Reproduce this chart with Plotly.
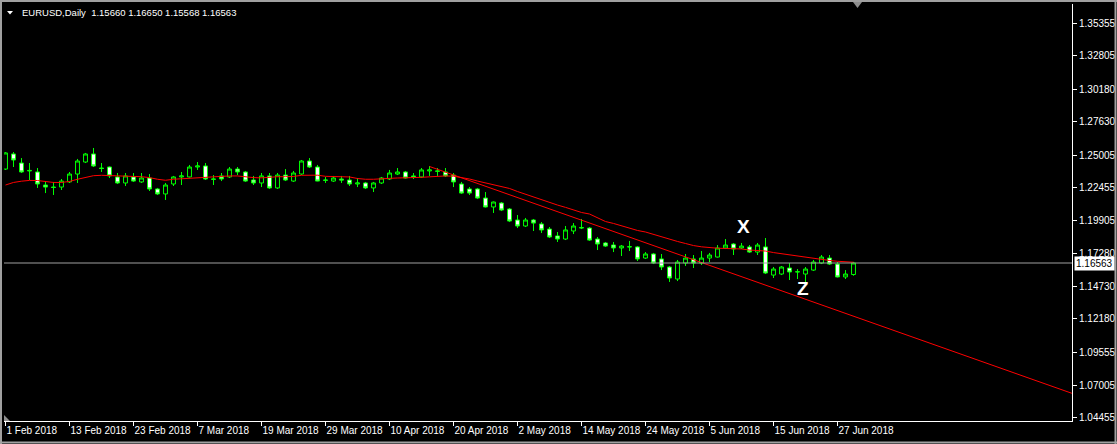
import plotly.graph_objects as go

# ---------------- data ----------------
bar_index = list(range(107))

opens = [
    1.2392, 1.2510, 1.2439, 1.2377, 1.2369, 1.2267, 1.2251, 1.2251, 1.2291, 1.2353,
    1.2447, 1.2510, 1.2400, 1.2408, 1.2330, 1.2283, 1.2330, 1.2291, 1.2322, 1.2236,
    1.2197, 1.2275, 1.2330, 1.2330, 1.2408, 1.2416, 1.2314, 1.2338, 1.2330, 1.2392,
    1.2369, 1.2306, 1.2283, 1.2338, 1.2244, 1.2345, 1.2298, 1.2353, 1.2455, 1.2408,
    1.2306, 1.2298, 1.2314, 1.2306, 1.2275, 1.2283, 1.2244, 1.2283, 1.2314, 1.2353,
    1.2369, 1.2338, 1.2330, 1.2377, 1.2377, 1.2369, 1.2345, 1.2275, 1.2236, 1.2236,
    1.2165, 1.2095, 1.2126, 1.2079, 1.1993, 1.1946, 1.1993, 1.1962, 1.1922, 1.1868,
    1.1844, 1.1907, 1.1930, 1.1930, 1.1844, 1.1813, 1.1797, 1.1774, 1.1782, 1.1782,
    1.1695, 1.1727, 1.1688, 1.1625, 1.1531, 1.1656, 1.1688, 1.1656, 1.1695, 1.1703,
    1.1774, 1.1805, 1.1774, 1.1782, 1.1742, 1.1782, 1.1562, 1.1570, 1.1617, 1.1586,
    1.1570, 1.1601, 1.1656, 1.1695, 1.1648, 1.1547, 1.15660]

highs = [
    1.2525, 1.2525, 1.2478, 1.2439, 1.2400, 1.2298, 1.2291, 1.2314, 1.2369, 1.2471,
    1.2518, 1.2557, 1.2439, 1.2412, 1.2361, 1.2361, 1.2361, 1.2361, 1.2353, 1.2244,
    1.2283, 1.2338, 1.2369, 1.2424, 1.2447, 1.2439, 1.2345, 1.2361, 1.2408, 1.2408,
    1.2377, 1.2338, 1.2361, 1.2361, 1.2361, 1.2392, 1.2377, 1.2463, 1.2478, 1.2424,
    1.2330, 1.2338, 1.2338, 1.2338, 1.2322, 1.2291, 1.2291, 1.2330, 1.2385, 1.2400,
    1.2377, 1.2361, 1.2400, 1.2416, 1.2400, 1.2400, 1.2361, 1.2291, 1.2251, 1.2244,
    1.2212, 1.2138, 1.2134, 1.2087, 1.2032, 1.2009, 1.2001, 1.1977, 1.1938, 1.1899,
    1.1946, 1.1969, 1.2001, 1.1938, 1.1860, 1.1821, 1.1821, 1.1797, 1.1829, 1.1789,
    1.1742, 1.1735, 1.1727, 1.1633, 1.1680, 1.1727, 1.1719, 1.1750, 1.1735, 1.1797,
    1.1844, 1.1813, 1.1813, 1.1797, 1.1813, 1.1852, 1.1625, 1.1633, 1.1656, 1.1609,
    1.1625, 1.1680, 1.1719, 1.1719, 1.1664, 1.1601, 1.16650]

lows = [
    1.2385, 1.2408, 1.2361, 1.2306, 1.2244, 1.2204, 1.2189, 1.2228, 1.2283, 1.2283,
    1.2439, 1.2408, 1.2369, 1.2322, 1.2275, 1.2259, 1.2291, 1.2283, 1.2220, 1.2189,
    1.2150, 1.2259, 1.2267, 1.2326, 1.2385, 1.2306, 1.2267, 1.2298, 1.2322, 1.2345,
    1.2291, 1.2267, 1.2251, 1.2236, 1.2236, 1.2298, 1.2291, 1.2345, 1.2400, 1.2296,
    1.2283, 1.2291, 1.2283, 1.2259, 1.2251, 1.2236, 1.2212, 1.2275, 1.2306, 1.2345,
    1.2318, 1.2314, 1.2322, 1.2338, 1.2338, 1.2330, 1.2251, 1.2197, 1.2189, 1.2157,
    1.2091, 1.2048, 1.2063, 1.1977, 1.1930, 1.1938, 1.1907, 1.1891, 1.1852, 1.1821,
    1.1836, 1.1883, 1.1922, 1.1829, 1.1758, 1.1782, 1.1742, 1.1711, 1.1750, 1.1672,
    1.1688, 1.1648, 1.1601, 1.1508, 1.1515, 1.1633, 1.1617, 1.1641, 1.1664, 1.1699,
    1.1766, 1.1719, 1.1766, 1.1735, 1.1719, 1.1570, 1.1539, 1.1562, 1.1523, 1.1531,
    1.1508, 1.1594, 1.1648, 1.1641, 1.1543, 1.1531, 1.15568]

closes = [
    1.2518, 1.2463, 1.2369, 1.2381, 1.2275, 1.2251, 1.2248, 1.2298, 1.2353, 1.2455,
    1.2510, 1.2416, 1.2396, 1.2338, 1.2283, 1.2338, 1.2298, 1.2322, 1.2236, 1.2197,
    1.2267, 1.2330, 1.2338, 1.2408, 1.2416, 1.2314, 1.2312, 1.2314, 1.2392, 1.2369,
    1.2298, 1.2283, 1.2338, 1.2244, 1.2345, 1.2306, 1.2361, 1.2455, 1.2408, 1.2298,
    1.2304, 1.2322, 1.2306, 1.2275, 1.2283, 1.2244, 1.2283, 1.2322, 1.2361, 1.2369,
    1.2322, 1.2330, 1.2385, 1.2385, 1.2375, 1.2338, 1.2291, 1.2204, 1.2204, 1.2165,
    1.2095, 1.2134, 1.2071, 1.1985, 1.1946, 1.1993, 1.1969, 1.1915, 1.1860, 1.1844,
    1.1915, 1.1946, 1.1934, 1.1836, 1.1805, 1.1789, 1.1774, 1.1789, 1.1784, 1.1688,
    1.1727, 1.1656, 1.1625, 1.1539, 1.1664, 1.1695, 1.1656, 1.1695, 1.1719, 1.1774,
    1.1797, 1.1766, 1.1789, 1.1742, 1.1797, 1.1578, 1.1609, 1.1625, 1.1586, 1.1588,
    1.1609, 1.1664, 1.1703, 1.1648, 1.1547, 1.1570, 1.16563]

moving_avg = [
    1.2267, 1.2287, 1.2297, 1.2303, 1.2302, 1.2294, 1.2287, 1.2287, 1.2295, 1.2312,
    1.2328, 1.2340, 1.2343, 1.2342, 1.2339, 1.2336, 1.2334, 1.2332, 1.2325, 1.2312,
    1.2304, 1.2312, 1.2317, 1.2321, 1.2325, 1.2327, 1.2331, 1.2336, 1.2338, 1.2338,
    1.2331, 1.2325, 1.2323, 1.2330, 1.2332, 1.2332, 1.2334, 1.2343, 1.2345, 1.2344,
    1.2335, 1.2334, 1.2334, 1.2330, 1.2318, 1.2312, 1.2312, 1.2313, 1.2319, 1.2322,
    1.2322, 1.2323, 1.2327, 1.2331, 1.2335, 1.2338, 1.2336, 1.2327, 1.2314, 1.2298,
    1.2284, 1.2272, 1.2259, 1.2240, 1.2216, 1.2194, 1.2171, 1.2150, 1.2130, 1.2110,
    1.2092, 1.2071, 1.2052, 1.2040, 1.2013, 1.1981, 1.1966, 1.1946, 1.1930, 1.1911,
    1.1899, 1.1879, 1.1860, 1.1840, 1.1825, 1.1809, 1.1793, 1.1783, 1.1776, 1.1772,
    1.1770, 1.1770, 1.1766, 1.1758, 1.1754, 1.1750, 1.1738, 1.1729, 1.1719, 1.1709,
    1.1700, 1.1692, 1.1684, 1.1676, 1.1670, 1.1664, 1.1662]

trend_x = [53, 133.3]
trend_y = [1.2412, 1.0636]

bid_price = 1.16563

date_tick_index = [0, 8, 16, 24, 32, 40, 48, 56, 64, 72, 80, 88, 96, 104]
date_tick_labels = ["1 Feb 2018", "13 Feb 2018", "23 Feb 2018", "7 Mar 2018",
                    "19 Mar 2018", "29 Mar 2018", "10 Apr 2018", "20 Apr 2018",
                    "2 May 2018", "14 May 2018", "24 May 2018", "5 Jun 2018",
                    "15 Jun 2018", "27 Jun 2018"]

price_ticks = [1.35355, 1.32805, 1.30180, 1.27630, 1.25005, 1.22455, 1.19905,
               1.17280, 1.14730, 1.12180, 1.09555, 1.07005, 1.04455]
price_tick_labels = ["%.5f" % v for v in price_ticks]

header_text = "EURUSD,Daily\u00a0 1.15660 1.16650 1.15568 1.16563"

label_x = {"text": "X", "x": 92.3, "y": 1.1946}
label_z = {"text": "Z", "x": 99.7, "y": 1.1453}

# ---------------- figure ----------------
FONT = "Liberation Sans, Arial, sans-serif"
GREEN = "#00ff00"

fig = go.Figure()

fig.add_trace(go.Candlestick(
    x=bar_index, open=opens, high=highs, low=lows, close=closes,
    increasing=dict(line=dict(color=GREEN, width=1), fillcolor="black"),
    decreasing=dict(line=dict(color=GREEN, width=1), fillcolor="white"),
    whiskerwidth=0, hoverinfo="skip", showlegend=False))

fig.add_trace(go.Scatter(
    x=bar_index, y=moving_avg, mode="lines",
    line=dict(color="#ff0000", width=1), hoverinfo="skip", showlegend=False))

fig.add_trace(go.Scatter(
    x=trend_x, y=trend_y, mode="lines",
    line=dict(color="#ff0000", width=1), hoverinfo="skip", showlegend=False))

W, H = 1117, 444
L, R, T, B = 4, 45, 4, 23
PW, PH = W - L - R, H - T - B


def px(x):
    return (x - L) / PW


def py(y):
    return (H - B - y) / PH


shapes = [
    # bid line
    dict(type="line", xref="paper", yref="y", x0=0, x1=1, y0=bid_price, y1=bid_price,
         line=dict(color="#a0a0a0", width=1)),
    # window frame (grey)
    dict(type="line", xref="paper", yref="paper", x0=px(0), x1=px(W), y0=py(1), y1=py(1),
         line=dict(color="#a0a0a0", width=2)),
    dict(type="line", xref="paper", yref="paper", x0=px(1), x1=px(1), y0=py(0), y1=py(H),
         line=dict(color="#a0a0a0", width=2)),
    dict(type="line", xref="paper", yref="paper", x0=px(0), x1=px(W), y0=py(H - 1.5), y1=py(H - 1.5),
         line=dict(color="#a0a0a0", width=2)),
    dict(type="line", xref="paper", yref="paper", x0=px(W - 1.5), x1=px(W - 1.5), y0=py(0), y1=py(H),
         line=dict(color="#a0a0a0", width=2)),
    # chart-shift marker at top
    dict(type="path", xref="paper", yref="paper",
         path="M %f,%f L %f,%f L %f,%f Z" % (px(853), py(2), px(862), py(2), px(857.5), py(8)),
         fillcolor="#8c8c8c", line=dict(width=0)),
    # bottom-left scale marker
    dict(type="path", xref="paper", yref="paper",
         path="M %f,%f L %f,%f L %f,%f Z" % (px(4), py(415), px(4), py(421), px(10), py(421)),
         fillcolor="#8c8c8c", line=dict(width=0)),
    # header triangle
    dict(type="path", xref="paper", yref="paper",
         path="M %f,%f L %f,%f L %f,%f Z" % (px(7), py(11), px(13), py(11), px(10), py(14.5)),
         fillcolor="white", line=dict(width=0)),
]

annotations = [
    dict(xref="paper", yref="paper", x=px(20), y=py(12.7), xanchor="left", yanchor="middle",
         text=header_text, showarrow=False, font=dict(family=FONT, size=9.5, color="white")),
    dict(xref="paper", yref="y", x=px(1074), y=bid_price, xanchor="left", yanchor="middle",
         text="%.5f" % bid_price, showarrow=False, bgcolor="white", borderpad=1,
         font=dict(family=FONT, size=10, color="black")),
]
for lab in (label_x, label_z):
    annotations.append(dict(xref="x", yref="y", x=lab["x"], y=lab["y"], text="<b>%s</b>" % lab["text"],
                            showarrow=False, xanchor="center", yanchor="middle",
                            font=dict(family=FONT, size=19, color="white")))

fig.update_layout(
    width=W, height=H,
    margin=dict(l=L, r=R, t=T, b=B, pad=0, autoexpand=False),
    paper_bgcolor="black", plot_bgcolor="black",
    showlegend=False,
    shapes=shapes,
    annotations=annotations,
    xaxis=dict(
        range=[(L - 5.5) / 8.0, (W - R - 5.5) / 8.0],
        automargin=False,
        showgrid=False, zeroline=False, rangeslider=dict(visible=False),
        tickmode="array", tickvals=date_tick_index, ticktext=date_tick_labels,
        ticks="outside", ticklen=4, tickcolor="white", tickwidth=1,
        ticklabelposition="outside right", tickangle=0,
        tickfont=dict(family=FONT, size=10, color="white"),
        showline=True, linecolor="white", linewidth=1,
    ),
    yaxis=dict(
        side="right",
        range=[1.04192, 1.36843],
        automargin=False,
        showgrid=False, zeroline=False,
        tickmode="array", tickvals=price_ticks, ticktext=price_tick_labels,
        ticks="outside", ticklen=4, tickcolor="white", tickwidth=1,
        tickfont=dict(family=FONT, size=10, color="white"),
        showline=True, linecolor="white", linewidth=1,
    ),
)

page_css = ("document.body.style.margin='0';"
            "document.body.style.padding='0';"
            "document.body.style.background='black';"
            "document.body.style.overflow='hidden';")

fig.write_html("out.html", config={"displayModeBar": False}, post_script=page_css)
